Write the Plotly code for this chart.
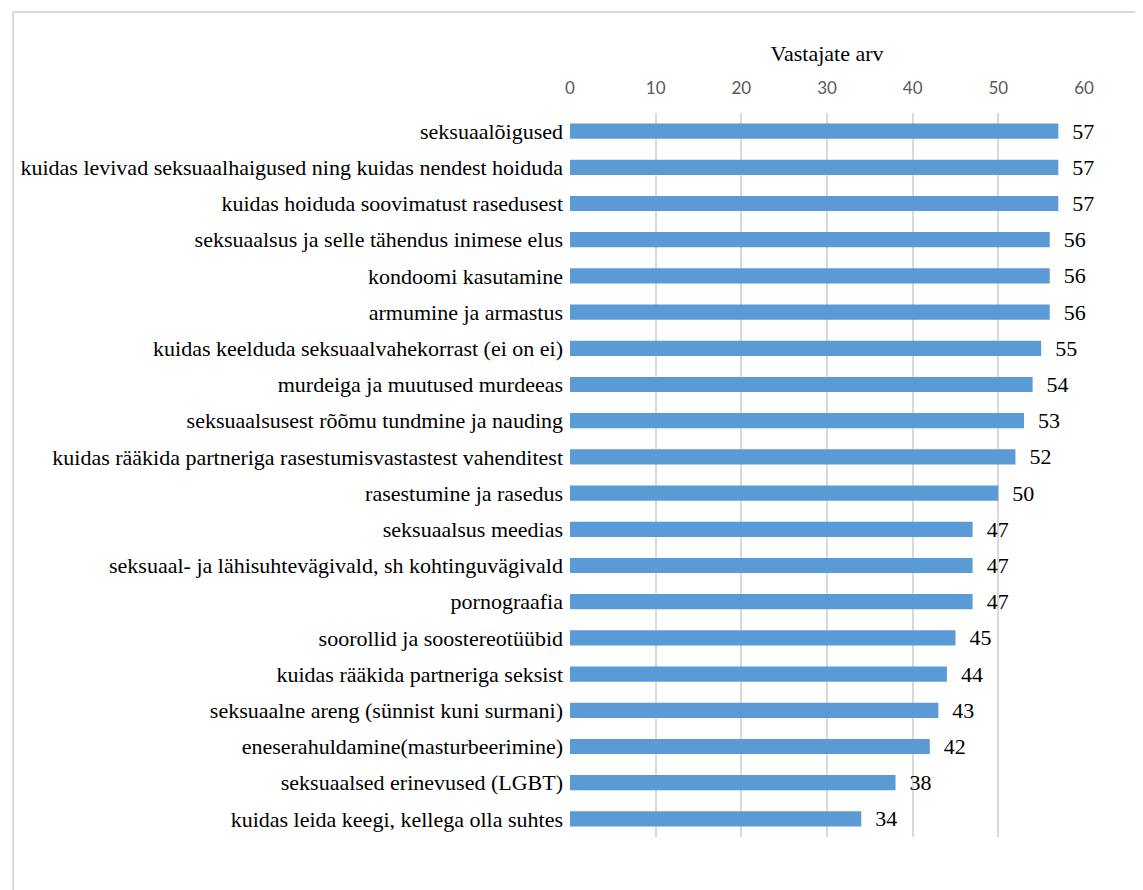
import plotly.graph_objects as go

categories = [
    "seksuaalõigused",
    "kuidas levivad seksuaalhaigused ning kuidas nendest hoiduda",
    "kuidas hoiduda soovimatust rasedusest",
    "seksuaalsus ja selle tähendus inimese elus",
    "kondoomi kasutamine",
    "armumine ja armastus",
    "kuidas keelduda seksuaalvahekorrast (ei on ei)",
    "murdeiga ja muutused murdeeas",
    "seksuaalsusest rõõmu tundmine ja nauding",
    "kuidas rääkida partneriga rasestumisvastastest vahenditest",
    "rasestumine ja rasedus",
    "seksuaalsus meedias",
    "seksuaal- ja lähisuhtevägivald, sh kohtinguvägivald",
    "pornograafia",
    "soorollid ja soostereotüübid",
    "kuidas rääkida partneriga seksist",
    "seksuaalne areng (sünnist kuni surmani)",
    "eneserahuldamine(masturbeerimine)",
    "seksuaalsed erinevused (LGBT)",
    "kuidas leida keegi, kellega olla suhtes",
]
values = [57, 57, 57, 56, 56, 56, 55, 54, 53, 52, 50, 47, 47, 47, 45, 44, 43, 42, 38, 34]
x_ticks = [0, 10, 20, 30, 40, 50, 60]
axis_title = "Vastajate arv"

SERIF = "Liberation Serif, Times New Roman, serif"

fig = go.Figure(
    go.Bar(
        x=values,
        y=categories,
        orientation="h",
        marker=dict(color="#5b9bd5", line=dict(width=0)),
        text=["\u2002" + str(v) for v in values],
        textposition="outside",
        constraintext="none",
        textfont=dict(family=SERIF, size=22, color="#000000"),
        cliponaxis=False,
    )
)

# page body has an 8px margin; figure coordinates = screen coordinates - 8
W, H = 1135, 882
L, R, T, B = 560, 59, 105, 53
pw, ph = W - L - R, H - T - B

def px_x(p):
    return (p - L) / pw

def px_y(p):
    return (H - B - p) / ph

fig.update_layout(
    width=W,
    height=H,
    margin=dict(l=L, r=R, t=T, b=B, pad=0),
    paper_bgcolor="white",
    plot_bgcolor="white",
    bargap=0.58,
    showlegend=False,
    xaxis=dict(
        side="top",
        range=[0, 60],
        tickvals=x_ticks,
        showgrid=True,
        gridcolor="#d9d9d9",
        gridwidth=1.5,
        zeroline=False,
        showline=False,
        ticks="",
        ticklabelstandoff=15,
        tickfont=dict(family="Lato, Open Sans, sans-serif", size=17, color="#595959"),
        title=dict(text=axis_title, font=dict(family=SERIF, size=22, color="#000000"), standoff=8),
    ),
    yaxis=dict(
        autorange="reversed",
        showgrid=False,
        zeroline=False,
        showline=False,
        ticks="",
        tickfont=dict(family=SERIF, size=22, color="#000000"),
        ticklabelstandoff=6,
    ),
    shapes=[
        dict(
            type="rect",
            xref="paper",
            yref="paper",
            x0=px_x(1),
            x1=px_x(1160),
            y0=px_y(910),
            y1=px_y(4),
            line=dict(color="#d9d9d9", width=2),
            fillcolor="rgba(0,0,0,0)",
            layer="below",
        )
    ],
)

fig.write_html("out.html")
